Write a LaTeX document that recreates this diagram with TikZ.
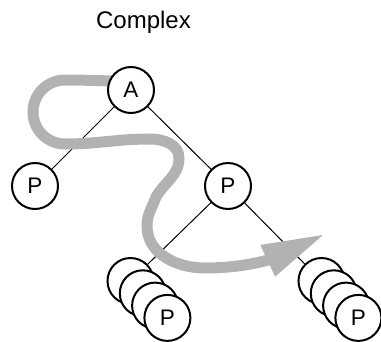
\documentclass[tikz,border=0pt]{standalone}
\usepackage{fontspec}
\setmainfont{Liberation Sans}
\usetikzlibrary{arrows.meta,positioning,backgrounds}

\begin{document}
\begin{tikzpicture}[x=1pt, y=1pt, on grid,
  pnode/.style={draw, circle, line width=2pt, fill=white, minimum size=46pt, inner sep=0pt, font=\fontsize{22.5}{26}\selectfont},
  link/.style={line width=1pt},
  band/.style={line width=11pt, draw=black!30, -{Triangle[length=61pt, width=35pt, line width=0pt]}}]
\useasboundingbox (0,0) rectangle (381,-341);
\node[font=\fontsize{24}{28}\selectfont, anchor=base] (title) at (143.5,-28) {Complex};
\node[pnode] (a) at (131,-90) {A};
\node[pnode, below left=96pt and 96pt of a] (pl) {P};
\node[pnode, below right=96pt and 97pt of a] (pr) {P};
\node[pnode, below left=95pt and 97.5pt of pr] (sl1) {};
\node[pnode, below right=12.3pt and 12.3pt of sl1] (sl2) {};
\node[pnode, below right=12.3pt and 12.3pt of sl2] (sl3) {};
\node[pnode, below right=12.3pt and 12.3pt of sl3] (sl4) {P};
\node[pnode, below right=95pt and 93.5pt of pr] (sr1) {};
\node[pnode, below right=12.3pt and 12.3pt of sr1] (sr2) {};
\node[pnode, below right=12.3pt and 12.3pt of sr2] (sr3) {};
\node[pnode, below right=12.3pt and 12.3pt of sr3] (sr4) {P};
\begin{scope}[on background layer]
\draw[link] (a) -- (pl);
\draw[link] (a) -- (pr);
\draw[link] (pr) -- (sl1);
\draw[link] (pr) -- (sr1);
% the grey walk through the tree
\draw[band] ([shift={(-6pt,9pt)}]a.center) to[out=180,in=0] (65,-80)
  to[out=180,in=90] (33,-112) to[out=-90,in=180] (65,-144)
  to[out=0,in=180] (150,-139) to[out=0,in=90] (179,-158)
  to[out=-90,in=60] (156,-197) to[out=250,in=90] (147,-226)
  to[out=-90,in=180] (205,-268) to[out=0,in=205] (323,-235);
\end{scope}
\end{tikzpicture}
\end{document}
